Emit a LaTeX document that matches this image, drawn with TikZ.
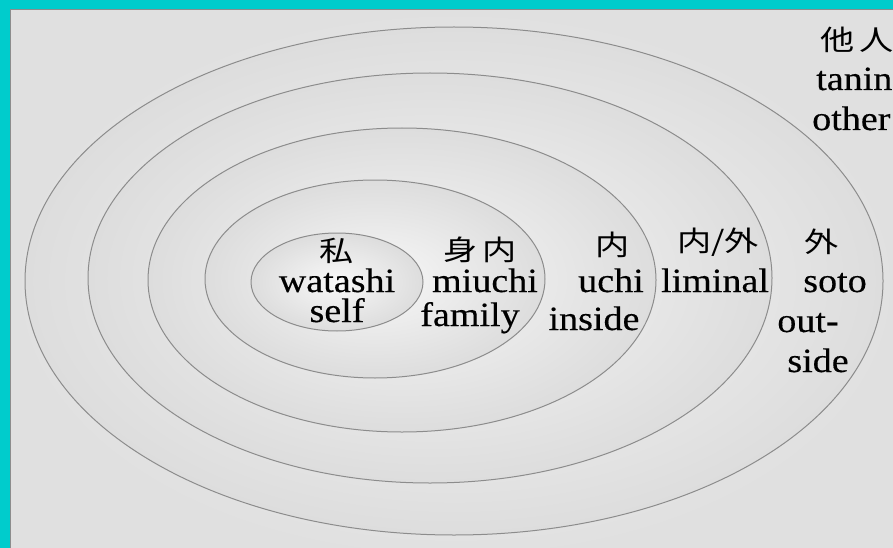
\documentclass[tikz,border=0pt]{standalone}
\usepackage{fontspec}
\setmainfont{Liberation Serif}[FakeStretch=1.12, FakeBold=0.35]
\newfontfamily\jpfont{Noto Sans CJK JP}[FakeStretch=1.22]
\definecolor{frame}{RGB}{0,204,204}
\definecolor{panelline}{RGB}{140,140,140}
\definecolor{bgin}{RGB}{245,245,245}
\definecolor{bgout}{RGB}{224,224,224}
\definecolor{elin}{RGB}{248,248,248}
\definecolor{elout}{RGB}{221,221,221}
\definecolor{ellline}{RGB}{140,140,140}
\pgfdeclareradialshading{ellsh}{\pgfpoint{0bp}{0bp}}{color(0bp)=(elin); color(25bp)=(elout); color(50bp)=(elout)}
\pgfdeclareradialshading{bgsh}{\pgfpoint{0bp}{0bp}}{color(0bp)=(bgin); color(25bp)=(bgout); color(50bp)=(bgout)}
\tikzset{
  ring/.style={shading=ellsh, draw=ellline, line width=1pt},
  lat/.style={inner sep=0pt, anchor=base, font=\fontsize{34}{34}\selectfont},
  jp/.style={inner sep=0pt, anchor=center, font=\jpfont\fontsize{28}{28}\selectfont},
}
\begin{document}
\begin{tikzpicture}[x=1pt,y=-1pt]
\useasboundingbox (0,0) rectangle (893,548);
\fill[frame] (0,0) rectangle (893,548);
\path[shading=bgsh, draw=panelline, line width=1pt] (10.5,9.5) rectangle (900,560);
% rings
\path[ring] (454,281) ellipse [x radius=429pt, y radius=254pt];
\path[ring] (430,278) ellipse [x radius=342pt, y radius=205pt];
\path[ring] (402,280) ellipse [x radius=254pt, y radius=152pt];
\path[ring] (375,279) ellipse [x radius=170pt, y radius=99pt];
\path[ring] (337,282) ellipse [x radius=86pt, y radius=49pt];
% self
\node[jp]  (wj) at (337,251) {私};
\node[lat] (wr) at (337,292) {watashi};
\node[lat] (we) at (337,322) {self};
% family
\node[jp]  (mj) at (480,250) {身\,内};
\node[lat] (mr) at (485,292) {miuchi};
\node[lat] (me) at (470,326) {family};
% inside
\node[jp]  (uj) at (613,245) {内};
\node[lat] (ur) at (611,292) {uchi};
\node[lat] (ue) at (594,330) {inside};
% liminal
\node[jp]  (lj) at (718,242) {内/外};
\node[lat] (le) at (715,292) {liminal};
% outside
\node[jp]  (sj) at (822,242) {外};
\node[lat] (sr) at (835,292) {soto};
\node[lat] (se1) at (808,332) {out-};
\node[lat] (se2) at (818,372) {side};
% other
\node[jp]  (tj) at (857,40) {他\,人};
\node[lat, anchor=base west] (tr) at (816,90) {tanin};
\node[lat, anchor=base west] (te) at (812,130) {other};
\end{tikzpicture}
\end{document}
